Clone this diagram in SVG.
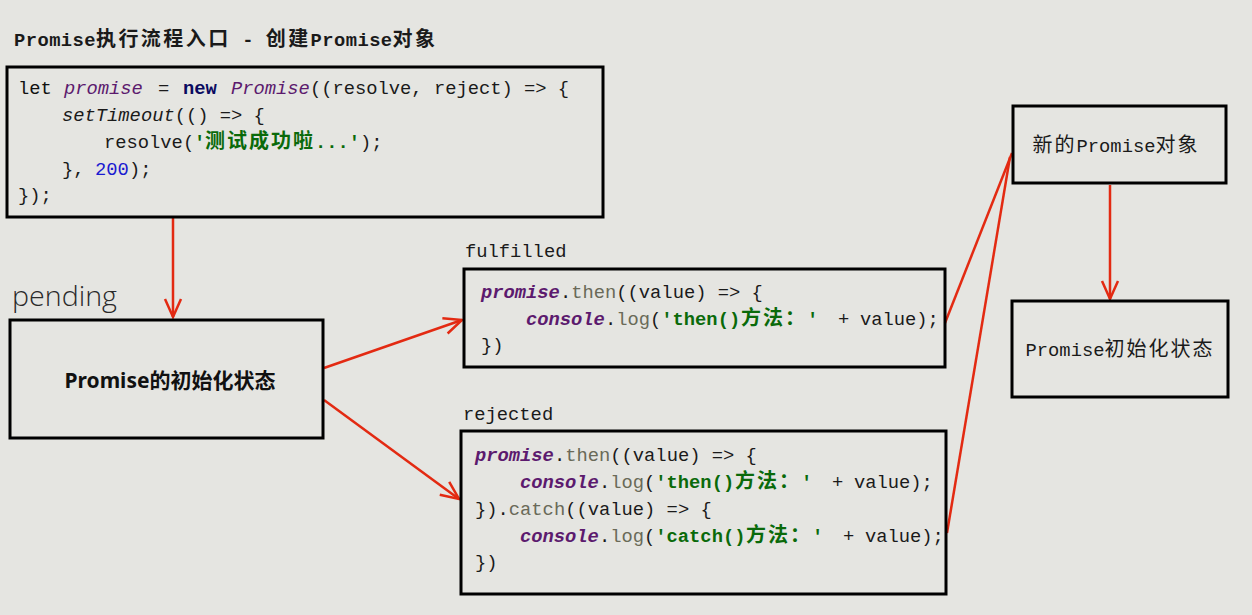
<svg xmlns="http://www.w3.org/2000/svg" width="1252" height="615" viewBox="0 0 1252 615">
<style>
.bg{fill:#e5e5e1}
.box{fill:none;stroke:#000;stroke-width:3}
.con{stroke:#e32a12;stroke-width:2.5;fill:none}
.code{font-family:"Liberation Mono","Noto Sans CJK SC",monospace;font-size:18.8px;fill:#1a1a1a}
.id{font-style:italic;fill:#5c1a6e}
.idb{font-style:italic;font-weight:bold;fill:#5c1a6e}
.it{font-style:italic}
.kw{font-weight:bold;fill:#0a0a60}
.str{font-weight:bold;fill:#0a6a0a}
.num{fill:#1a1ad0}
.fn{fill:#6a6a58}
.cjk{font-family:"Noto Sans CJK SC",sans-serif;font-size:20px;letter-spacing:2px}
.lbl{font-family:"Liberation Mono","Noto Sans CJK SC",monospace;font-size:18.8px;fill:#1a1a1a}
</style>
<defs>
<marker id="ah" markerUnits="userSpaceOnUse" markerWidth="30" markerHeight="30" refX="20" refY="10" orient="auto" overflow="visible">
<path d="M2,2 L20,10 L2,18" fill="none" stroke="#e32a12" stroke-width="2.5"/>
</marker>
</defs>
<rect class="bg" x="0" y="0" width="1252" height="615"/>

<text x="14" y="46" class="code" font-weight="bold" textLength="423" lengthAdjust="spacing" fill="#111">Promise<tspan class="cjk">执行流程入口</tspan> - <tspan class="cjk">创建</tspan>Promise<tspan class="cjk">对象</tspan></text>

<g id="connectors">
<line class="con" x1="173" y1="218" x2="173" y2="317" marker-end="url(#ah)"/>
<line class="con" x1="324" y1="368" x2="462" y2="320" marker-end="url(#ah)"/>
<line class="con" x1="324" y1="400" x2="459" y2="499" marker-end="url(#ah)"/>
<line class="con" x1="945" y1="323" x2="1012" y2="153"/>
<line class="con" x1="947" y1="533" x2="1010" y2="157"/>
<line class="con" x1="1110" y1="185" x2="1110" y2="299" marker-end="url(#ah)"/>
</g>

<g id="create">
<rect class="box" x="7" y="67" width="596" height="150"/>
<text class="code" y="94"><tspan x="18" fill="#111">let</tspan><tspan x="64" class="id">promise</tspan><tspan x="158">=</tspan><tspan x="183" class="kw">new</tspan><tspan x="231" class="id">Promise</tspan><tspan>((resolve, reject) =&gt; {</tspan></text>
<text class="code" y="121"><tspan x="62" class="it">setTimeout</tspan><tspan>(() =&gt; {</tspan></text>
<text class="code" y="148"><tspan x="104">resolve(</tspan><tspan x="194" class="str">'</tspan><tspan x="205" class="str cjk">测试成功啦</tspan><tspan x="315" class="str">...'</tspan><tspan x="360">);</tspan></text>
<text class="code" y="175"><tspan x="62">}, </tspan><tspan x="95" class="num">200</tspan><tspan x="129">);</tspan></text>
<text class="code" y="201"><tspan x="18">});</tspan></text>
</g>

<g id="pending">
<text x="12" y="306" font-family="Open Sans, Lato, sans-serif" font-weight="300" font-size="28" fill="#2a2a2a" textLength="105" lengthAdjust="spacingAndGlyphs">pending</text>
<rect class="box" x="10" y="320" width="313" height="118"/>
<text x="170" y="388" text-anchor="middle" font-family="Noto Sans, Noto Sans CJK SC, sans-serif" font-weight="bold" font-size="21" fill="#111">Promise的初始化状态</text>
</g>

<g id="fulfilled">
<text class="lbl" x="465" y="257">fulfilled</text>
<rect class="box" x="464" y="269" width="481" height="98"/>
<text class="code" y="298"><tspan x="481" class="idb">promise</tspan><tspan>.</tspan><tspan class="fn">then</tspan><tspan>((value) =&gt; {</tspan></text>
<text class="code" y="325"><tspan x="526" class="idb">console</tspan><tspan>.</tspan><tspan class="fn">log</tspan><tspan>(</tspan><tspan class="str">'then()</tspan><tspan x="741" class="str cjk">方法：</tspan><tspan x="807" class="str">'</tspan><tspan x="838">+</tspan><tspan x="860">value);</tspan></text>
<text class="code" y="351"><tspan x="481">})</tspan></text>
</g>

<g id="rejected">
<text class="lbl" x="463" y="420">rejected</text>
<rect class="box" x="461" y="431" width="485" height="163"/>
<text class="code" y="461"><tspan x="475" class="idb">promise</tspan><tspan>.</tspan><tspan class="fn">then</tspan><tspan>((value) =&gt; {</tspan></text>
<text class="code" y="488"><tspan x="520" class="idb">console</tspan><tspan>.</tspan><tspan class="fn">log</tspan><tspan>(</tspan><tspan class="str">'then()</tspan><tspan x="735" class="str cjk">方法：</tspan><tspan x="801" class="str">'</tspan><tspan x="832">+</tspan><tspan x="854">value);</tspan></text>
<text class="code" y="515"><tspan x="475">}).</tspan><tspan class="fn">catch</tspan><tspan>((value) =&gt; {</tspan></text>
<text class="code" y="542"><tspan x="520" class="idb">console</tspan><tspan>.</tspan><tspan class="fn">log</tspan><tspan>(</tspan><tspan class="str">'catch()</tspan><tspan x="746" class="str cjk">方法：</tspan><tspan x="812" class="str">'</tspan><tspan x="843">+</tspan><tspan x="865">value);</tspan></text>
<text class="code" y="568"><tspan x="475">})</tspan></text>
</g>

<g id="newPromise">
<rect class="box" x="1013" y="106" width="213" height="77"/>
<text class="code" x="1116" y="152" text-anchor="middle"><tspan class="cjk">新的</tspan>Promise<tspan class="cjk">对象</tspan></text>
</g>

<g id="initState">
<rect class="box" x="1012" y="301" width="216" height="96"/>
<text class="code" x="1120" y="356" text-anchor="middle">Promise<tspan class="cjk">初始化状态</tspan></text>
</g>
</svg>
